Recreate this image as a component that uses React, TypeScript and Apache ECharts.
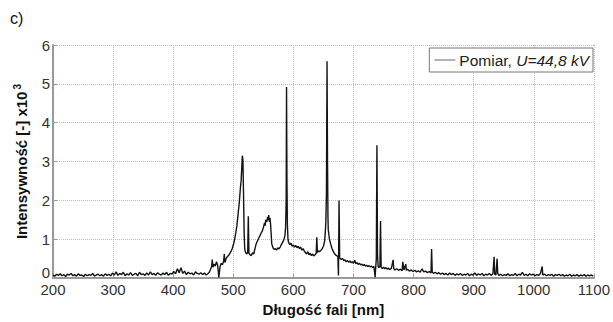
import React, { useEffect, useRef } from "react";
import * as echarts from "echarts";

// Spectrum: [wavelength nm, intensity x10^3]
const uvBaseline: [number, number][] = [
  [200, 0.08], [203, 0.05], [206, 0.10], [209, 0.07], [212, 0.11], [215, 0.06], [218, 0.09], [221, 0.04],
  [224, 0.10], [227, 0.08], [230, 0.12], [233, 0.06], [236, 0.09], [239, 0.05], [242, 0.11], [245, 0.07],
  [248, 0.08], [251, 0.04], [254, 0.10], [257, 0.06], [260, 0.09], [263, 0.07], [266, 0.12], [269, 0.05],
  [272, 0.08], [275, 0.10], [278, 0.06], [281, 0.09], [284, 0.05], [287, 0.11], [290, 0.07], [293, 0.10],
  [296, 0.06], [299, 0.13], [302, 0.08], [305, 0.16], [308, 0.07], [311, 0.12], [314, 0.09], [317, 0.15],
  [320, 0.06], [323, 0.11], [326, 0.08], [329, 0.14], [332, 0.07], [335, 0.10], [338, 0.12], [341, 0.06],
  [344, 0.15], [347, 0.09], [350, 0.11], [353, 0.07], [356, 0.13], [359, 0.08], [362, 0.16], [365, 0.09],
  [368, 0.12], [371, 0.07], [374, 0.14], [377, 0.10], [380, 0.08], [383, 0.13], [386, 0.09], [389, 0.15],
  [392, 0.07], [395, 0.12], [398, 0.10], [401, 0.17], [404, 0.11], [407, 0.24], [410, 0.14], [413, 0.27],
  [416, 0.12], [419, 0.18], [422, 0.09], [425, 0.15], [428, 0.11], [431, 0.13], [434, 0.08], [437, 0.16],
  [440, 0.12], [443, 0.10], [446, 0.14], [449, 0.09], [452, 0.13], [455, 0.08], [458, 0.12],
];

const greenBand: [number, number][] = [
  [460, 0.15], [462, 0.22], [464, 0.30], [465, 0.48], [466, 0.28], [468, 0.36], [470, 0.31], [472, 0.42],
  [474, 0.33], [476, 0.02], [478, 0.30], [480, 0.38], [482, 0.34], [484, 0.45], [485, 0.62], [486, 0.40],
  [488, 0.50], [490, 0.55], [492, 0.58], [494, 0.63], [496, 0.68], [498, 0.75], [500, 0.85], [502, 0.98],
  [504, 1.15], [506, 1.35], [508, 1.65], [510, 1.95], [512, 2.35], [513, 2.5], [514, 2.8], [515, 3.15],
  [516, 3.05], [517, 2.2], [518, 1.2], [519, 0.75], [520, 0.68], [522, 0.62], [524, 0.66], [525, 1.59],
  [526, 0.64], [528, 0.60], [530, 0.58], [532, 0.65], [534, 0.62], [536, 0.75], [538, 0.88], [540, 0.95],
  [542, 1.02], [544, 1.08], [546, 1.15], [548, 1.2], [550, 1.3], [552, 1.42], [553, 1.35], [554, 1.5],
  [556, 1.45], [557, 1.58], [558, 1.5], [559, 1.62], [560, 1.45], [561, 1.55], [562, 1.4], [563, 1.15],
  [564, 0.88], [566, 0.78], [568, 0.74], [570, 0.76], [572, 0.72], [574, 0.78], [576, 0.75], [578, 0.8],
  [580, 0.86], [582, 0.92], [584, 0.98], [586, 1.1], [587, 1.3], [588, 2.0], [588.6, 4.92], [589.3, 2.5],
  [590, 1.4], [591, 1.0], [592, 0.92], [594, 0.86], [596, 0.9], [598, 0.82], [600, 0.85], [602, 0.8],
  [604, 0.84], [606, 0.78], [608, 0.82], [610, 0.76],
];

const redRegion: [number, number][] = [
  [612, 0.8], [614, 0.72], [616, 0.76], [618, 0.7], [620, 0.66], [622, 0.62], [624, 0.68], [626, 0.6],
  [628, 0.64], [630, 0.58], [632, 0.62], [634, 0.57], [636, 0.6], [638, 0.64], [639, 1.05], [640, 0.66],
  [642, 0.7], [644, 0.68], [646, 0.72], [648, 0.76], [650, 0.82], [652, 0.95], [653, 1.15], [654, 1.45],
  [655, 2.2], [656, 5.58], [656.8, 3.0], [657.5, 1.6], [658, 1.25], [660, 1.0], [662, 0.88], [664, 0.77],
  [666, 0.7], [668, 0.64], [670, 0.6], [672, 0.58], [674, 0.55], [675, 0.07], [676, 2.0], [677, 0.52],
  [678, 0.5], [680, 0.48], [682, 0.5], [684, 0.45], [686, 0.47], [688, 0.42], [690, 0.45], [692, 0.41],
  [694, 0.44], [696, 0.4], [698, 0.42], [700, 0.38], [702, 0.46], [704, 0.37], [706, 0.4], [708, 0.35],
  [710, 0.38], [712, 0.34], [714, 0.36], [716, 0.32], [718, 0.35], [720, 0.31], [722, 0.33], [724, 0.3],
  [726, 0.32], [728, 0.29], [730, 0.31], [732, 0.27], [734, 0.3], [736, 0.02], [737, 0.28], [738, 0.5],
  [739, 3.42], [740, 0.6], [741, 0.3], [742, 0.27], [744, 0.3], [745, 1.47], [746, 0.28], [748, 0.25],
  [750, 0.28], [752, 0.24], [754, 0.27], [756, 0.23], [758, 0.26], [760, 0.22],
];

const irTail: [number, number][] = [
  [763, 0.25], [766, 0.47], [767, 0.24], [769, 0.21], [772, 0.24], [775, 0.2], [778, 0.23], [781, 0.19],
  [782, 0.42], [784, 0.21], [787, 0.36], [788, 0.2], [790, 0.23], [793, 0.18], [796, 0.21], [799, 0.17],
  [802, 0.2], [805, 0.16], [808, 0.19], [811, 0.15], [814, 0.24], [817, 0.16], [820, 0.18], [823, 0.14],
  [826, 0.17], [829, 0.13], [830, 0.75], [831, 0.16], [833, 0.12], [836, 0.15], [839, 0.11], [842, 0.14],
  [845, 0.1], [848, 0.13], [851, 0.09], [854, 0.12], [857, 0.08], [860, 0.13], [863, 0.09], [866, 0.12],
  [869, 0.07], [872, 0.11], [875, 0.08], [878, 0.12], [881, 0.07], [884, 0.1], [887, 0.08], [890, 0.12],
  [893, 0.06], [896, 0.1], [899, 0.08], [902, 0.13], [905, 0.07], [908, 0.11], [911, 0.08], [914, 0.12],
  [917, 0.06], [920, 0.1], [923, 0.08], [926, 0.12], [929, 0.07], [932, 0.11], [934, 0.55], [935, 0.1],
  [937, 0.08], [939, 0.5], [940, 0.12], [942, 0.07], [945, 0.1], [948, 0.06], [951, 0.09], [954, 0.07],
  [957, 0.11], [960, 0.06], [963, 0.09], [966, 0.07], [969, 0.12], [972, 0.06], [975, 0.1], [978, 0.08],
  [981, 0.15], [984, 0.07], [987, 0.1], [990, 0.06], [993, 0.11], [996, 0.08], [999, 0.1], [1002, 0.06],
  [1005, 0.09], [1008, 0.07], [1011, 0.11], [1014, 0.3], [1015, 0.08], [1018, 0.1], [1021, 0.06], [1024, 0.09],
  [1027, 0.07], [1030, 0.1], [1033, 0.05], [1036, 0.09], [1039, 0.07], [1042, 0.1], [1045, 0.06], [1048, 0.09],
  [1051, 0.05], [1054, 0.08], [1057, 0.06], [1060, 0.1], [1063, 0.05], [1066, 0.08], [1069, 0.06], [1072, 0.09],
  [1075, 0.05], [1078, 0.08], [1081, 0.06], [1084, 0.09], [1087, 0.05], [1090, 0.08], [1093, 0.06], [1096, 0.08],
  [1099, 0.05],
];

const seriesName = "Pomiar, U=44,8 kV";
const FONT = "'Liberation Sans', Arial, sans-serif";

export default function App() {
  const ref = useRef<HTMLDivElement>(null);
  useEffect(() => {
    if (!ref.current) return;
    document.body.style.margin = "0";
    const chart = echarts.init(ref.current, null, { renderer: "svg" });
    const data = [...uvBaseline, ...greenBand, ...redRegion, ...irTail];
    chart.setOption({
      animation: false,
      backgroundColor: "#ffffff",
      textStyle: { fontFamily: FONT },
      graphic: [
        {
          type: "text",
          left: 10,
          top: 10,
          style: { text: "c)", fontSize: 16, fontFamily: FONT, fill: "#111" },
        },
      ],
      grid: { left: 53, right: 16, top: 45, bottom: 34, containLabel: false },
      legend: {
        right: 20,
        top: 48,
        orient: "horizontal",
        padding: [4, 4, 4, 5],
        icon: "rect",
        itemWidth: 21,
        itemHeight: 1,
        itemGap: 4,
        itemStyle: { color: "#666" },
        borderColor: "#777",
        borderWidth: 1,
        backgroundColor: "#fff",
        data: [seriesName],
        formatter: () => "{n|Pomiar, }{i|U=44,8 kV}",
        textStyle: {
          fontFamily: FONT,
          color: "#222",
          padding: [0, 0, 0, -1],
          rich: {
            n: { fontSize: 15.5, fontFamily: FONT, color: "#222" },
            i: { fontSize: 15.5, fontFamily: FONT, fontStyle: "italic", color: "#222" },
          },
        },
      },
      xAxis: {
        type: "value",
        min: 200,
        max: 1100,
        interval: 100,
        name: "Długość fali [nm]",
        nameLocation: "middle",
        nameGap: 20,
        nameTextStyle: { fontSize: 15, fontWeight: "bold", color: "#111", fontFamily: FONT },
        axisLine: { show: true, lineStyle: { color: "#999", width: 2 } },
        axisTick: { show: true, inside: true, length: 4, lineStyle: { color: "#999" } },
        axisLabel: { fontSize: 15, color: "#333", margin: 4, fontFamily: FONT, formatter: (v: number) => String(v) },
        splitLine: { show: true, lineStyle: { type: "dotted", color: "#bbb", width: 1 } },
      },
      yAxis: {
        type: "value",
        min: 0,
        max: 6,
        interval: 1,
        name: "{b|Intensywność [-] x10}{s|3}",
        nameLocation: "middle",
        nameGap: 17,
        nameRotate: 90,
        nameTextStyle: {
          fontFamily: FONT,
          rich: {
            b: { fontSize: 15, fontWeight: "bold", color: "#111", fontFamily: FONT, lineHeight: 18 },
            s: { fontSize: 10, fontWeight: "bold", color: "#111", fontFamily: FONT, verticalAlign: "top", lineHeight: 18, padding: [0, 0, 8, 2] },
          },
        },
        axisLine: { show: true, lineStyle: { color: "#999", width: 2 } },
        axisTick: { show: true, inside: true, length: 4, lineStyle: { color: "#999" } },
        axisLabel: {
          fontSize: 15,
          color: "#333",
          margin: 3,
          fontFamily: FONT,
          formatter: (v: number) => (v === 0 ? "{z|0}" : String(v)),
          rich: { z: { fontSize: 15, color: "#333", fontFamily: FONT, padding: [0, 0, 12, 0] } },
        },
        splitLine: { show: true, lineStyle: { type: "dotted", color: "#bbb", width: 1 } },
      },
      series: [
        {
          name: seriesName,
          type: "line",
          data,
          showSymbol: false,
          symbol: "none",
          lineStyle: { color: "#141414", width: 1.4 },
          itemStyle: { color: "#666" },
        },
      ],
    });
    return () => chart.dispose();
  }, []);
  return <div ref={ref} style={{ width: 613, height: 322 }} />;
}
